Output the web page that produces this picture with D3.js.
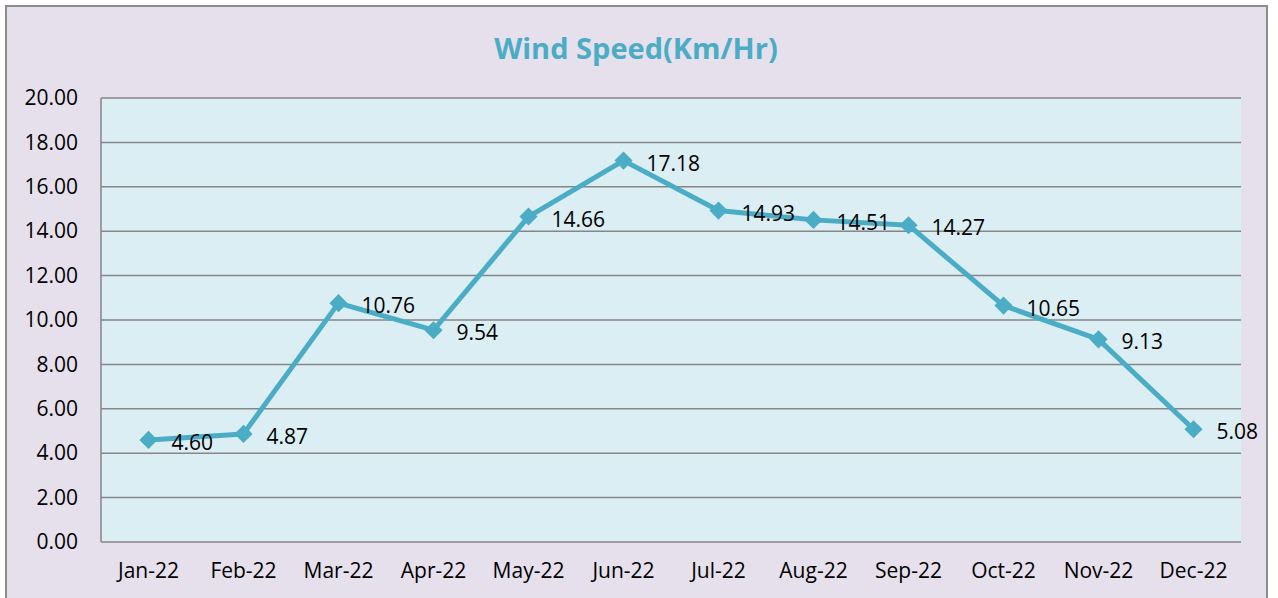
<!DOCTYPE html>
<html>
<head>
<meta charset="utf-8">
<script src="https://cdn.jsdelivr.net/npm/d3@7"></script>
<style>
  body { margin: 0; background: #fff; }
  svg { display: block; font-family: 'Open Sans', sans-serif; }
</style>
</head>
<body>
<svg id="chart" width="1278" height="598"></svg>
<script>
const months = ['Jan-22', 'Feb-22', 'Mar-22', 'Apr-22', 'May-22', 'Jun-22',
  'Jul-22', 'Aug-22', 'Sep-22', 'Oct-22', 'Nov-22', 'Dec-22'];
const windSpeed = [4.60, 4.87, 10.76, 9.54, 14.66, 17.18, 14.93, 14.51, 14.27, 10.65, 9.13, 5.08];
const yTicks = [0, 2, 4, 6, 8, 10, 12, 14, 16, 18, 20];

const svg = d3.select('#chart');
const plot = { left: 101, top: 98, right: 1241, bottom: 542 };
const lineColor = '#4bacc6';

// outer frame
svg.append('rect')
  .attr('x', 6).attr('y', 6)
  .attr('width', 1261).attr('height', 620)
  .style('fill', '#e6e0ec')
  .style('stroke', '#8c8c8c')
  .style('stroke-width', 2);

svg.append('text')
  .attr('x', 636).attr('y', 59)
  .attr('text-anchor', 'middle')
  .text('Wind Speed(Km/Hr)')
  .style('font-size', '29px')
  .style('font-weight', 'bold')
  .style('fill', lineColor);

const x = d3.scaleBand().domain(months).range([plot.left, plot.right]);
const y = d3.scaleLinear().domain([0, 20]).range([plot.bottom, plot.top]);

svg.append('rect')
  .attr('x', plot.left).attr('y', plot.top)
  .attr('width', plot.right - plot.left).attr('height', plot.bottom - plot.top)
  .style('fill', '#daeef3');

// gridlines
svg.append('g')
  .selectAll('line')
  .data(yTicks)
  .join('line')
  .attr('x1', plot.left).attr('x2', plot.right)
  .attr('y1', (d) => y(d)).attr('y2', (d) => y(d))
  .style('stroke', '#868686')
  .style('stroke-width', 1.5);

svg.append('line')
  .attr('x1', plot.left).attr('x2', plot.left)
  .attr('y1', plot.top).attr('y2', plot.bottom)
  .style('stroke', '#868686')
  .style('stroke-width', 1.5);

// y axis labels
const yAxis = svg.append('g')
  .attr('transform', `translate(${plot.left - 23},0)`)
  .call(d3.axisLeft(y).tickValues(yTicks).tickFormat(d3.format('.2f')).tickSize(0).tickPadding(0));
yAxis.select('.domain').remove();
yAxis.selectAll('text')
  .style('font-size', '21px')
  .style('font-family', "'Open Sans', sans-serif")
  .style('fill', '#000');

// x axis labels
const xAxis = svg.append('g')
  .attr('transform', `translate(0,${plot.bottom})`)
  .call(d3.axisBottom(x).tickSize(0).tickPadding(21));
xAxis.select('.domain').remove();
xAxis.selectAll('text')
  .style('font-size', '21px')
  .style('font-family', "'Open Sans', sans-serif")
  .style('fill', '#000');

const cx = (d, i) => x(months[i]) + x.bandwidth() / 2;

const line = d3.line()
  .x((d, i) => cx(d, i))
  .y((d) => y(d));

svg.append('path')
  .datum(windSpeed)
  .attr('d', line)
  .style('fill', 'none')
  .style('stroke', lineColor)
  .style('stroke-width', 5)
  .style('stroke-linejoin', 'round');

svg.append('g')
  .selectAll('path')
  .data(windSpeed)
  .join('path')
  .attr('d', d3.symbol().type(d3.symbolDiamond2).size(210))
  .attr('transform', (d, i) => `translate(${cx(d, i)},${y(d)})`)
  .style('fill', lineColor);

svg.append('g')
  .selectAll('text')
  .data(windSpeed)
  .join('text')
  .attr('x', (d, i) => cx(d, i) + 23)
  .attr('y', (d) => y(d) + 10)
  .text((d) => d.toFixed(2))
  .style('font-size', '21px')
  .style('fill', '#000');
</script>
</body>
</html>
